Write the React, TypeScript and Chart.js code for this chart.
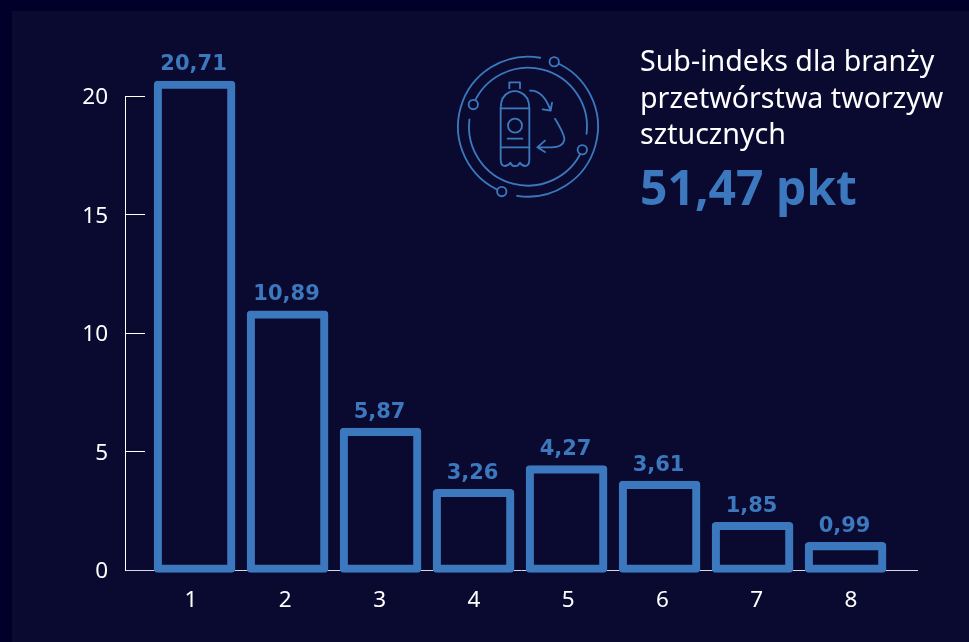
import React, { useEffect, useRef } from "react";
import { Chart, registerables } from "chart.js";

Chart.register(...registerables);

const categories = [1, 2, 3, 4, 5, 6, 7, 8];
const values = [20.71, 10.89, 5.87, 3.26, 4.27, 3.61, 1.85, 0.99];
const titleLines = ["Sub-indeks dla branży", "przetwórstwa tworzyw", "sztucznych"];
const totalLabel = "51,47 pkt";

const BLUE = "#3c78bd";
const OUTER = "#00002b";
const PANEL = "#0a0a31";
const FONT = '"Noto Sans", sans-serif';

const valueLabels = {
  id: "valueLabels",
  afterDatasetsDraw(chart: any) {
    const { ctx } = chart;
    const meta = chart.getDatasetMeta(0);
    ctx.save();
    ctx.fillStyle = BLUE;
    ctx.font = `700 21px "DejaVu Sans", sans-serif`;
    ctx.textAlign = "center";
    ctx.textBaseline = "middle";
    meta.data.forEach((bar: any, i: number) => {
      ctx.fillText(values[i].toFixed(2).replace(".", ","), bar.x - 1, bar.y - 16);
    });
    ctx.restore();
  },
};

function polar(r: number, deg: number) {
  const a = (deg * Math.PI) / 180;
  return [264 + r * Math.cos(a), 260 + r * Math.sin(a)];
}

function arc(r: number, from: number, to: number) {
  const [x1, y1] = polar(r, from);
  const [x2, y2] = polar(r, to);
  return `M${x1} ${y1} A${r} ${r} 0 0 0 ${x2} ${y2}`;
}

function Icon() {
  const s = { fill: "none", stroke: BLUE, strokeWidth: 5.5, strokeLinecap: "round", strokeLinejoin: "round" } as any;
  const nodes = [polar(210, -68), polar(210, 112), polar(177, 23), polar(177, 202)];
  return (
    <svg
      viewBox="0 0 600 510"
      style={{ position: "absolute", left: 440, top: 40, width: 200, height: 170 }}
    >
      <g {...s}>
        <path d={arc(210, -80, -248)} />
        <path d={arc(210, 99, -68)} />
        <path d={arc(177, 187, 23)} />
        <path d={arc(177, 7, -158)} />
        {nodes.map(([cx, cy], i) => (
          <circle key={i} cx={cx} cy={cy} r={14} fill={PANEL} />
        ))}
        <path d="M208 145 V127 H240 V145" />
        <path d="M207 157 Q225 150 241 157 Q268 168 268 205 V358 Q268 378 256 378 Q246 378 240 368 Q232 380 225 378 Q216 380 211 368 Q204 378 194 378 Q182 378 182 358 V205 Q182 168 207 157 Z" />
        <path d="M182 205 H268 M182 322 H268" />
        <circle cx={225} cy={257} r={21} />
        <path d="M203 296 H247" />
        <path d="M270 152 Q310 150 332 212 M308 208 L332 212 L336 188" />
        <path d="M345 236 Q375 285 373 300 Q368 322 335 322 H292 M315 302 L292 322 L315 336" />
      </g>
    </svg>
  );
}

export default function App() {
  const ref = useRef<HTMLCanvasElement | null>(null);

  useEffect(() => {
    document.body.style.margin = "0";
    document.body.style.overflow = "hidden";
    const chart = new Chart(ref.current as HTMLCanvasElement, {
      type: "bar",
      data: {
        datasets: [
          {
            data: categories.map((c, i) => ({ x: c, y: values[i] })),
            xAxisID: "x",
            yAxisID: "yBars",
            backgroundColor: "transparent",
            borderColor: BLUE,
            borderWidth: 7.5,
            borderSkipped: false,
            borderRadius: 4,
            barThickness: 81,
            base: -0.3,
            clip: false,
          } as any,
        ],
      },
      options: {
        responsive: false,
        animation: false,
        layout: { padding: { top: 96, right: 52, left: 0, bottom: 0 } },
        plugins: { legend: { display: false }, tooltip: { enabled: false } },
        scales: {
          x: { type: "linear", display: false, offset: false, min: 0.252, max: 8.768 },
          xLabels: {
            type: "linear",
            position: "bottom",
            offset: false,
            min: 0.311,
            max: 8.71,
            afterFit: (s: any) => { s.height = 72; },
            border: { display: true, color: "#d8d8e0", width: 1 },
            grid: { display: false },
            ticks: {
              stepSize: 1,
              includeBounds: false,
              autoSkip: false,
              maxRotation: 0,
              padding: 9,
              labelOffset: 1,
              color: "#ffffff",
              font: { family: FONT, size: 22.5 },
            },
          },
          y: {
            type: "linear",
            position: "left",
            min: 0,
            max: 20,
            afterFit: (s: any) => { s.width = 125; },
            border: { display: true, color: "#ffffff", width: 1 },
            grid: {
              drawOnChartArea: false,
              drawTicks: true,
              tickLength: -20,
              color: "#ffffff",
            },
            ticks: {
              stepSize: 5,
              padding: 37,
              labelOffset: 2,
              color: "#ffffff",
              font: { family: FONT, size: 22.5 },
            },
          },
          yBars: { type: "linear", display: false, min: -0.192, max: 20.07 },
        },
      } as any,
      plugins: [valueLabels],
    });
    return () => chart.destroy();
  }, []);

  return (
    <div style={{ position: "relative", width: 969, height: 642, background: OUTER, overflow: "hidden", fontFamily: FONT }}>
      <div style={{ position: "absolute", left: 12, top: 11, right: 0, bottom: 0, background: PANEL }} />
      <canvas ref={ref} width={969} height={642} style={{ position: "absolute", left: 0, top: 0, display: "block" }} />
      <Icon />
      <div style={{ position: "absolute", left: 640, top: 42, color: "#ffffff", fontSize: 28.6, lineHeight: "36.5px", whiteSpace: "nowrap" }}>
        {titleLines.map((t) => (
          <div key={t}>{t}</div>
        ))}
      </div>
      <div style={{ position: "absolute", left: 640, top: 155, color: BLUE, fontSize: 48, fontWeight: 700, lineHeight: "64px", whiteSpace: "nowrap" }}>
        {totalLabel}
      </div>
    </div>
  );
}
